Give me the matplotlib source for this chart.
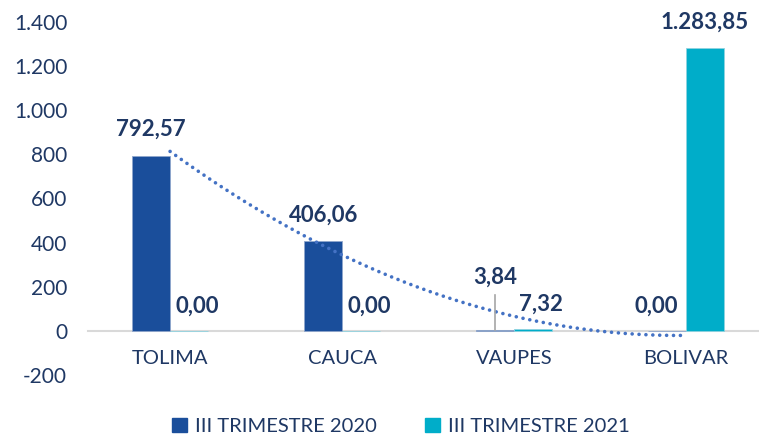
import matplotlib
matplotlib.use("Agg")
import matplotlib.pyplot as plt
from matplotlib.patches import Patch
import numpy as np

plt.rcParams['font.family'] = ['Lato', 'DejaVu Sans']

departamentos = ['TOLIMA', 'CAUCA', 'VAUPES', 'BOLIVAR']
serie_2020 = [792.57, 406.06, 3.84, 0.00]
serie_2021 = [0.00, 0.00, 7.32, 1283.85]
nombres = ['III TRIMESTRE 2020', 'III TRIMESTRE 2021']
y_ticks = [-200, 0, 200, 400, 600, 800, 1000, 1200, 1400]

c2020 = '#1a4e9b'
c2021 = '#00adc9'
texto = '#1f3864'


def miles(v, dec=0):
    s = f"{v:,.{dec}f}"
    return s.replace(',', 'X').replace('.', ',').replace('X', '.')


fig = plt.figure(figsize=(7.59, 4.36), dpi=100)
ax = fig.add_axes([0.116, 0.14, 0.884, 0.8096])

x = np.arange(len(departamentos))
w = 0.22
ax.bar(x - w / 2, serie_2020, w, color=c2020, edgecolor='#8fa6cc', linewidth=0.6, zorder=2)
ax.bar(x + w / 2, serie_2021, w, color=c2021, edgecolor='#8fd3e0', linewidth=0.6, zorder=2)

# linea de tendencia polinomica (orden 2) de la serie 2020
coef = np.polyfit(x, serie_2020, 2)
xs = np.linspace(0, 3, 200)
ax.plot(xs, np.polyval(coef, xs), color='#4472c4', lw=2.6,
        linestyle=(0, (0.01, 1.9)), dash_capstyle='round', zorder=3)

# etiquetas de datos
lab = dict(fontsize=16, fontweight='bold', color=texto, ha='center', va='center',
           annotation_clip=False, zorder=4)
off_2020 = [(0, 19), (0, 19), (0, 38), (-8, 18)]
off_2021 = [(6, 18), (6, 18), (6, 18), (0, 18)]
for i in range(len(departamentos)):
    ax.annotate(miles(serie_2020[i], 2), (x[i] - w / 2, serie_2020[i]),
                xytext=off_2020[i], textcoords='offset points', **lab)
    ax.annotate(miles(serie_2021[i], 2), (x[i] + w / 2, serie_2021[i]),
                xytext=off_2021[i], textcoords='offset points', **lab)

# linea guia de la etiqueta de VAUPES
ax.plot([2 - w / 2, 2 - w / 2], [serie_2020[2], 163], color='#a6a6a6', lw=1.2, zorder=3)

ax.set_ylim(-200, 1400)
ax.set_xlim(-0.477, 3.424)
ax.set_yticks(y_ticks)
ax.set_yticklabels([miles(v) for v in y_ticks])
ax.set_xticks(x)
ax.set_xticklabels(departamentos)
ax.tick_params(axis='y', length=0, pad=15, labelsize=15, labelcolor=texto)
ax.tick_params(axis='x', length=0, pad=14, labelsize=14.5, labelcolor=texto)

for s in ['top', 'right', 'left']:
    ax.spines[s].set_visible(False)
ax.spines['bottom'].set_position(('data', 0))
ax.spines['bottom'].set_color('#d9d9d9')
ax.spines['bottom'].set_linewidth(1.5)
ax.spines['bottom'].set_zorder(1)

handles = [Patch(color=c2020), Patch(color=c2021)]
fig.legend(handles, nombres, loc='center', bbox_to_anchor=(0.528, 0.022), ncol=2,
           frameon=False, fontsize=14.5, labelcolor=texto, handlelength=0.75,
           handleheight=0.75, handletextpad=0.4, columnspacing=2.4)

fig.savefig('out.png', dpi=100)
